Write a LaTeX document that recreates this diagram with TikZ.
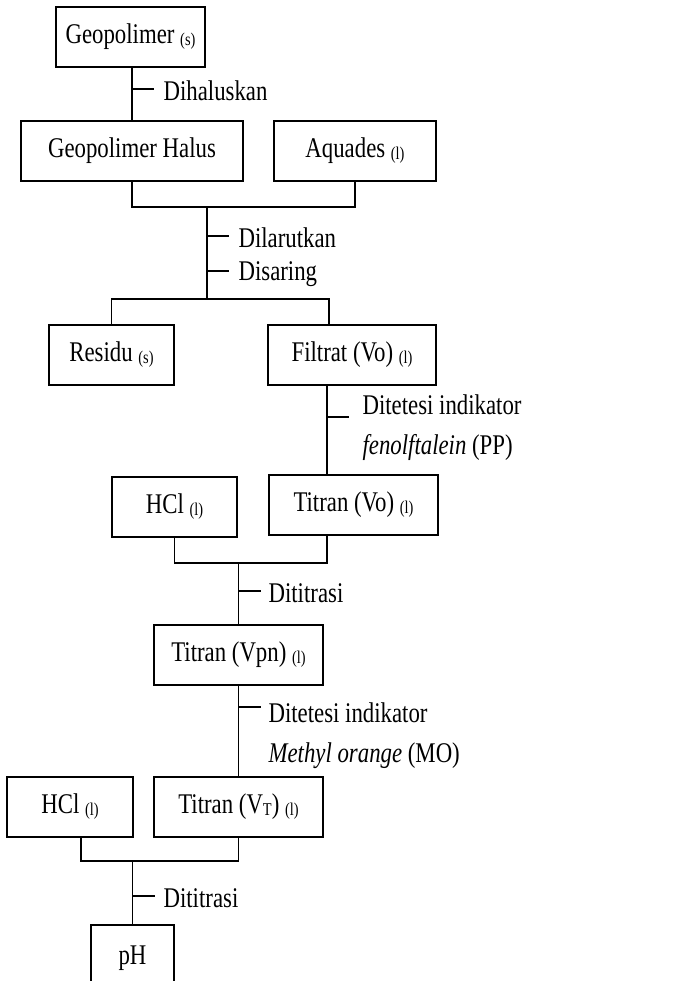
\documentclass[tikz,border=0pt]{standalone}
\usepackage{fontspec}
\setmainfont{Liberation Serif}[FakeStretch=0.8]
\usetikzlibrary{calc}

\newcommand{\fase}[1]{{\fontsize{18}{18}\selectfont\raisebox{-2pt}{(#1)}}}
\newcommand{\subsm}[1]{{\fontsize{18}{18}\selectfont\raisebox{-2pt}{#1}}}

\begin{document}
\begin{tikzpicture}[
  x=1pt, y=-1pt,
  font=\fontsize{28.5}{30}\selectfont,
  line width=1.2pt,
  box/.style={draw, minimum height=60pt, inner sep=0pt},
  lbl/.style={anchor=west, inner sep=0pt},
  twolbl/.style={anchor=west, inner sep=0pt, align=left, font=\fontsize{28.5}{40}\selectfont}
]
\useasboundingbox (0,0) rectangle (683,981);
\clip (0,0) rectangle (683,981);

% boxes
\node[box, minimum width=149pt] (geo) at (130.5,37) {Geopolimer \fase{s}};
\node[box, minimum width=222pt] (halus) at (132,151) {Geopolimer Halus};
\node[box, minimum width=162pt] (aqua) at (355,151) {Aquades \fase{l}};
\node[box, minimum width=125pt] (residu) at (111.5,355) {Residu \fase{s}};
\node[box, minimum width=168pt] (filtrat) at (352,355) {Filtrat (Vo) \fase{l}};
\node[box, minimum width=125pt] (hcla) at (174.5,507) {HCl \fase{l}};
\node[box, minimum width=169pt] (titvo) at (353.5,505) {Titran (Vo) \fase{l}};
\node[box, minimum width=169pt] (titvpn) at (238.5,655) {Titran (Vpn) \fase{l}};
\node[box, minimum width=126pt] (hclb) at (70,807) {HCl \fase{l}};
\node[box, minimum width=169pt] (titvt) at (238.5,807) {Titran (V\subsm{T}) \fase{l}};
\node[box, minimum width=83pt, minimum height=66pt] (ph) at (132.5,958) {pH};

% labels
\node[lbl] (halusan) at (163,91) {Dihaluskan};
\node[lbl] (larut) at (238,238) {Dilarutkan};
\node[lbl] (saring) at (238,274) {Disaring};
\node[twolbl] (tetespp) at (362,428) {Ditetesi indikator\\\textit{fenolftalein} (PP)};
\node[lbl] (titrasia) at (268,593) {Dititrasi};
\node[twolbl] (tetesmo) at (268,736) {Ditetesi indikator\\\textit{Methyl orange} (MO)};
\node[lbl] (titrasib) at (163,898) {Dititrasi};

% junctions
\coordinate (j1) at (207,207);
\coordinate (j2) at (207,299);
\coordinate (j3) at (238.5,563);
\coordinate (j4) at (132.5,861);

% connectors
\draw (halus.north) -- (halus.north |- geo.south);
\draw (halus.south) |- (j1) -| (aqua.south);
\draw (j1) -- (j2);
\draw (residu.north) |- (j2) -| ($(filtrat.north)+(-23,0)$);
\draw ($(filtrat.south)+(-25,0)$) -- ($(titvo.north)+(-26.5,0)$);
\draw (hcla.south) |- (j3) -| ($(titvo.south)+(-26.5,0)$);
\draw (j3) -- (titvpn.north);
\draw (titvpn.south) -- (titvt.north);
\draw ($(hclb.south)+(11,0)$) |- (j4) -| (titvt.south);
\draw (j4) -- (ph.north);

% ticks
\draw (132,89) -- ++(22,0);
\draw (207,236) -- ++(22,0);
\draw (207,271) -- ++(22,0);
\draw (327,417) -- ++(22,0);
\draw (238.5,591) -- ++(22,0);
\draw (238.5,707) -- ++(22,0);
\draw (132.5,896) -- ++(22,0);

\end{tikzpicture}
\end{document}
